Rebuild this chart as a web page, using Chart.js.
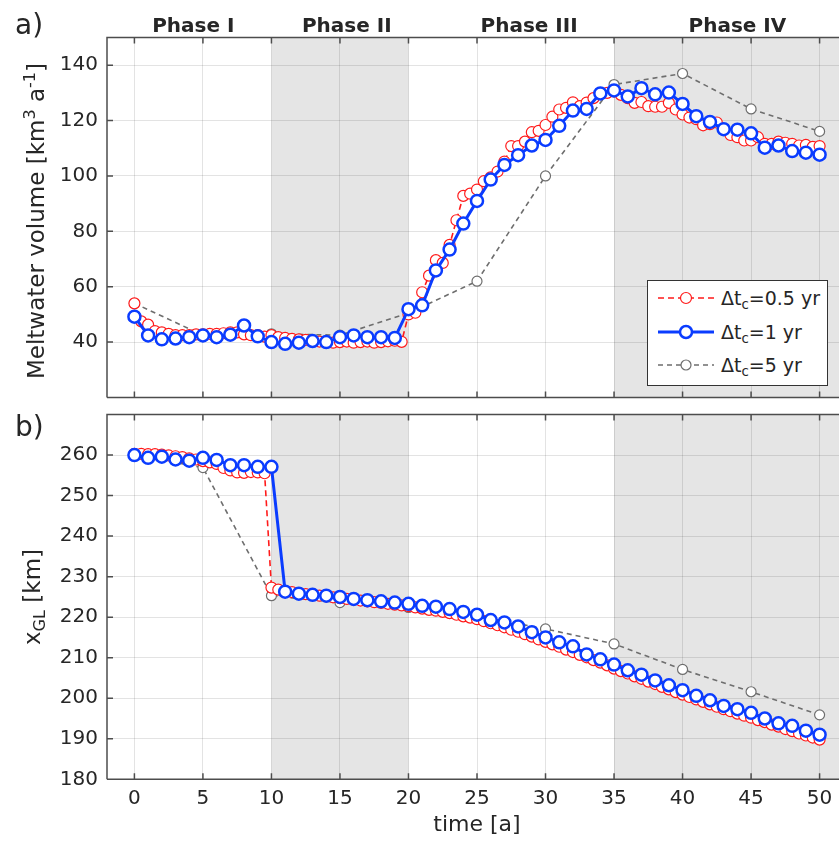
<!DOCTYPE html>
<html>
<head>
<meta charset="utf-8">
<script src="https://cdn.jsdelivr.net/npm/chart.js@4.4.0/dist/chart.umd.min.js"></script>
<style>
  html, body { margin:0; padding:0; background:#fff; overflow:hidden; }
  #wrap { position:relative; width:839px; height:842px; overflow:hidden; font-family:"DejaVu Sans", sans-serif; color:#262626; }
  .panel { position:absolute; left:0; width:860px; }
  canvas { display:block; }
  .lab { position:absolute; font-size:28px; line-height:28px; white-space:nowrap; }
  .ytitle { position:absolute; font-size:23px; line-height:26px; white-space:nowrap; transform:translate(-50%,-50%) rotate(-90deg); }
  sup, sub { font-size:0.7em; line-height:0; position:relative; vertical-align:baseline; }
  sup { top:-0.55em; }
  sub { top:0.3em; }
  .phase { position:absolute; top:15px; font-weight:bold; font-size:20px; line-height:20px; white-space:nowrap; transform:translateX(-50%); }
  #legend { position:absolute; left:647px; top:280px; width:181px; height:106px; border:1px solid #333; background:#fff; box-sizing:border-box; font-size:19px; }
  .row { position:absolute; left:9px; height:24px; display:flex; align-items:center; white-space:nowrap; }
  .row svg { margin-right:6px; }
</style>
</head>
<body>
<div id="wrap">
  <div class="panel" style="top:0"><canvas id="top" width="860" height="406"></canvas></div>
  <div class="panel" style="top:406px"><canvas id="bottom" width="860" height="436"></canvas></div>

  <div class="lab" style="left:15px;top:11px">a)</div>
  <div class="lab" style="left:15px;top:413px">b)</div>
  <div class="ytitle" style="left:36px;top:221px">Meltwater volume [km<sup>3</sup> a<sup>-1</sup>]</div>
  <div class="ytitle" style="left:32px;top:597px">x<sub>GL</sub> [km]</div>
  <div id="phases"></div>

  <div id="legend">
    <div class="row" style="top:5px">
      <svg width="58" height="24"><line x1="1" y1="12" x2="57" y2="12" stroke="#ff1a1a" stroke-width="1.6" stroke-dasharray="6 4"/><circle cx="29" cy="12" r="5.5" fill="#fff" stroke="#ff1a1a" stroke-width="1.2"/></svg>
      <span>&Delta;t<sub>c</sub>=0.5 yr</span>
    </div>
    <div class="row" style="top:39px">
      <svg width="58" height="24"><line x1="1" y1="12" x2="57" y2="12" stroke="#0a3cff" stroke-width="3"/><circle cx="29" cy="12" r="6" fill="#fff" stroke="#0a3cff" stroke-width="2.5"/></svg>
      <span>&Delta;t<sub>c</sub>=1 yr</span>
    </div>
    <div class="row" style="top:72px">
      <svg width="58" height="24"><line x1="1" y1="12" x2="57" y2="12" stroke="#6e6e6e" stroke-width="1.6" stroke-dasharray="5 4"/><circle cx="29" cy="12" r="5" fill="#fff" stroke="#6e6e6e" stroke-width="1.2"/></svg>
      <span>&Delta;t<sub>c</sub>=5 yr</span>
    </div>
  </div>
</div>

<script>
Chart.defaults.font.family = "DejaVu Sans";

// time axes of the three runs
let tHalf = [];
for (let i = 0; i <= 100; i++) tHalf.push(i / 2);
let tOne = [];
for (let i = 0; i <= 50; i++) tOne.push(i);
let tFive = [0, 5, 10, 15, 20, 25, 30, 35, 40, 45, 50];

let xTicks = [0, 5, 10, 15, 20, 25, 30, 35, 40, 45, 50];
let volTicks = [40, 60, 80, 100, 120, 140];
let glTicks = [180, 190, 200, 210, 220, 230, 240, 250, 260];

let phaseNames = ["Phase I", "Phase II", "Phase III", "Phase IV"];
let phaseLabelX = [4.3, 15.5, 28.8, 44];
let shadeSpans = [[10, 20], [35, 52]];

// meltwater volume, panel a
let volHalf = [
  54, 47.5, 46.3, 44, 43.5, 43, 42.5, 42.5, 42.5, 42.8,
  42.8, 43, 43, 43.2, 43.5, 43.5, 42.8, 42.5, 42.5, 42,
  42.5, 41.8, 41.5, 41.2, 41, 40.8, 40.5, 40.2, 40, 39.8,
  40, 40.2, 39.8, 40, 40.2, 39.8, 40, 40.3, 40.5, 40.1,
  50, 50.6, 58, 64, 69.6, 68.6, 75.1, 84, 92.8, 93.6,
  95.1, 98.1, 99.5, 101.6, 105.2, 110.8, 110.8, 112.4, 115.8, 116.3,
  118.4, 121.4, 124, 124.6, 126.6, 125.2, 126.5, 128.1, 129.9, 130,
  130.5, 129.3, 128.1, 126.4, 126.7, 125.2, 125, 125, 126.4, 124,
  122.2, 121.1, 120.5, 118.3, 118.7, 119.3, 116.9, 114.8, 114, 112.8,
  112.8, 114, 111.6, 111.6, 112.4, 112, 111.6, 111, 111.2, 110.5,
  110.8
];
let volOne = [
  49.2, 42.4, 41, 41.3, 41.8, 42.4, 41.8, 42.7, 46, 42.1,
  40, 39.4, 39.8, 40.4, 40, 41.8, 42.4, 41.8, 41.8, 41.5,
  51.9, 53.3, 65.9, 73.4, 82.8, 91, 98.7, 104, 107.5, 111,
  113, 118.1, 123.6, 124.2, 129.8, 130.9, 128.7, 131.7, 129.5, 130.1,
  126, 121.6, 119.5, 116.9, 116.7, 115.4, 110.2, 111, 109, 108.4,
  107.7
];
let volFive = [54, 42.5, 43, 42.5, 50.5, 62, 100, 133, 137, 124.2, 116.1];

// grounding line position, panel b
let glHalf = [
  260.3, 260.3, 260.2, 260.2, 260.1, 259.9, 259.7, 259.5, 259.2, 258.9,
  258.5, 258.2, 257.8, 256.8, 256.2, 255.7, 255.6, 255.8, 255.7, 255.5,
  227.3, 226.8, 226.5, 226.2, 225.9, 225.7, 225.5, 225.3, 225.1, 224.9,
  224.7, 224.5, 224.3, 224.1, 223.9, 223.7, 223.5, 223.3, 223.1, 222.9,
  222.7, 222.4, 222.1, 221.8, 221.6, 221.3, 221.0, 220.6, 220.2, 219.9,
  219.5, 219.0, 218.5, 218.0, 217.5, 216.9, 216.4, 215.8, 215.2, 214.5,
  213.9, 213.3, 212.7, 212.0, 211.4, 210.7, 210.1, 209.4, 208.8, 208.1,
  207.3, 206.7, 206.1, 205.4, 204.8, 204.1, 203.5, 202.8, 202.2, 201.5,
  200.9, 200.3, 199.7, 199.1, 198.5, 197.9, 197.3, 196.8, 196.2, 195.7,
  195.2, 194.6, 194.1, 193.5, 193.0, 192.4, 191.9, 191.3, 190.8, 190.3,
  189.8
];
let glOne = [
  260, 259.3, 259.6, 258.9, 258.6, 259.3, 258.8, 257.5, 257.5, 257.1,
  257.1, 226.3, 225.8, 225.5, 225.3, 225, 224.5, 224.2, 223.9, 223.6,
  223.3, 222.8, 222.6, 222, 221.3, 220.6, 219.3, 218.7, 217.7, 216.3,
  215, 213.8, 212.8, 210.8, 209.6, 208.3, 206.9, 205.8, 204.4, 203.2,
  202, 200.6, 199.5, 198.1, 197.3, 196.4, 195, 193.8, 193.2, 192,
  191
];
let glFive = [260, 256.9, 225.3, 223.6, 222.4, 220.3, 217.1, 213.4, 207.1, 201.6, 195.9];

let gridColor = "rgba(38,38,38,0.13)";
let textColor = "#262626";

function pts(xs, ys) {
  return xs.map((x, i) => ({x: x, y: ys[i]}));
}

//shaded phases under the grid, frame and inward ticks on top of it
let framePlugin = {
  id: "frame",
  beforeDraw(chart) {
    let {ctx, chartArea: a, scales: {x}} = chart;
    ctx.save();
    ctx.fillStyle = "#e5e5e5";
    shadeSpans.forEach(function (s) {
      let x0 = Math.max(x.getPixelForValue(s[0]), a.left);
      let x1 = Math.min(x.getPixelForValue(s[1]), a.right);
      ctx.fillRect(x0, a.top, x1 - x0, a.bottom - a.top);
    });
    ctx.restore();
  },
  beforeDatasetsDraw(chart) {
    let {ctx, chartArea: a, scales: {x, y}} = chart;
    ctx.save();
    ctx.strokeStyle = "#4d4d4d";
    ctx.lineWidth = 1.5;
    ctx.beginPath();
    ctx.moveTo(a.left, a.bottom); ctx.lineTo(a.left, a.top); ctx.lineTo(a.right, a.top);
    ctx.moveTo(a.left, a.bottom); ctx.lineTo(a.right, a.bottom);
    x.ticks.forEach(function (t) {
      let px = x.getPixelForValue(t.value);
      ctx.moveTo(px, a.bottom); ctx.lineTo(px, a.bottom - 6);
      ctx.moveTo(px, a.top); ctx.lineTo(px, a.top + 6);
    });
    y.ticks.forEach(function (t) {
      let py = y.getPixelForValue(t.value);
      ctx.moveTo(a.left, py); ctx.lineTo(a.left + 6, py);
    });
    ctx.stroke();
    ctx.restore();
  }
};

function series(xHalf, yHalf, xOne, yOne, xFive, yFive) {
  return [
    {
      data: pts(xOne, yOne), borderColor: "#0a3cff", borderWidth: 3,
      pointRadius: 6, pointBorderWidth: 2.5, pointBackgroundColor: "#fff", pointBorderColor: "#0a3cff",
      order: 1
    },
    {
      data: pts(xHalf, yHalf), borderColor: "#ff1a1a", borderWidth: 1.6, borderDash: [6, 4],
      pointRadius: 5.5, pointBorderWidth: 1.2, pointBackgroundColor: "#fff", pointBorderColor: "#ff1a1a",
      order: 2
    },
    {
      data: pts(xFive, yFive), borderColor: "#6e6e6e", borderWidth: 1.6, borderDash: [5, 4],
      pointRadius: 5, pointBorderWidth: 1.2, pointBackgroundColor: "#fff", pointBorderColor: "#6e6e6e",
      order: 3
    }
  ];
}

// chart area is fixed by hand: no label overhang padding
function noPad(s) {
  s.paddingTop = 0; s.paddingBottom = 0; s.paddingLeft = 0; s.paddingRight = 0;
}

function panelOptions(yMin, yMax, yTicks, padTop, xHeight, showX) {
  return {
    responsive: false,
    animation: false,
    layout: {padding: {top: padTop, right: 13, left: 0, bottom: 0}},
    plugins: {legend: {display: false}, tooltip: {enabled: false}},
    scales: {
      x: {
        type: "linear", min: -2, max: 52,
        afterBuildTicks: function (s) { s.ticks = xTicks.map(v => ({value: v})); },
        afterFit: function (s) { s.height = xHeight; noPad(s); },
        grid: {color: gridColor, drawTicks: false},
        border: {display: false},
        ticks: {display: showX, padding: 7, color: textColor, font: {size: 20}},
        title: {display: showX, text: "time [a]", color: textColor, font: {size: 22}, padding: {top: 0, bottom: 4}}
      },
      y: {
        min: yMin, max: yMax,
        afterBuildTicks: function (s) { s.ticks = yTicks.map(v => ({value: v})); },
        afterFit: function (s) { s.width = 107; noPad(s); },
        grid: {color: gridColor, drawTicks: false},
        border: {display: false},
        ticks: {padding: 9, color: textColor, font: {size: 20}}
      }
    }
  };
}

let topChart = new Chart("top", {
  type: "line",
  data: {datasets: series(tHalf, volHalf, tOne, volOne, tFive, volFive)},
  options: panelOptions(20, 150, volTicks, 37.5, 2, false),
  plugins: [framePlugin]
});

new Chart("bottom", {
  type: "line",
  data: {datasets: series(tHalf, glHalf, tOne, glOne, tFive, glFive)},
  options: panelOptions(180, 270, glTicks, 6.5, 62.7, true),
  plugins: [framePlugin]
});

// phase names over panel a
let phases = document.querySelector("#phases");
phaseNames.forEach(function (name, i) {
  let d = document.createElement("div");
  d.className = "phase";
  d.style.left = topChart.scales.x.getPixelForValue(phaseLabelX[i]) + "px";
  d.innerHTML = name;
  phases.appendChild(d);
});
</script>
</body>
</html>
